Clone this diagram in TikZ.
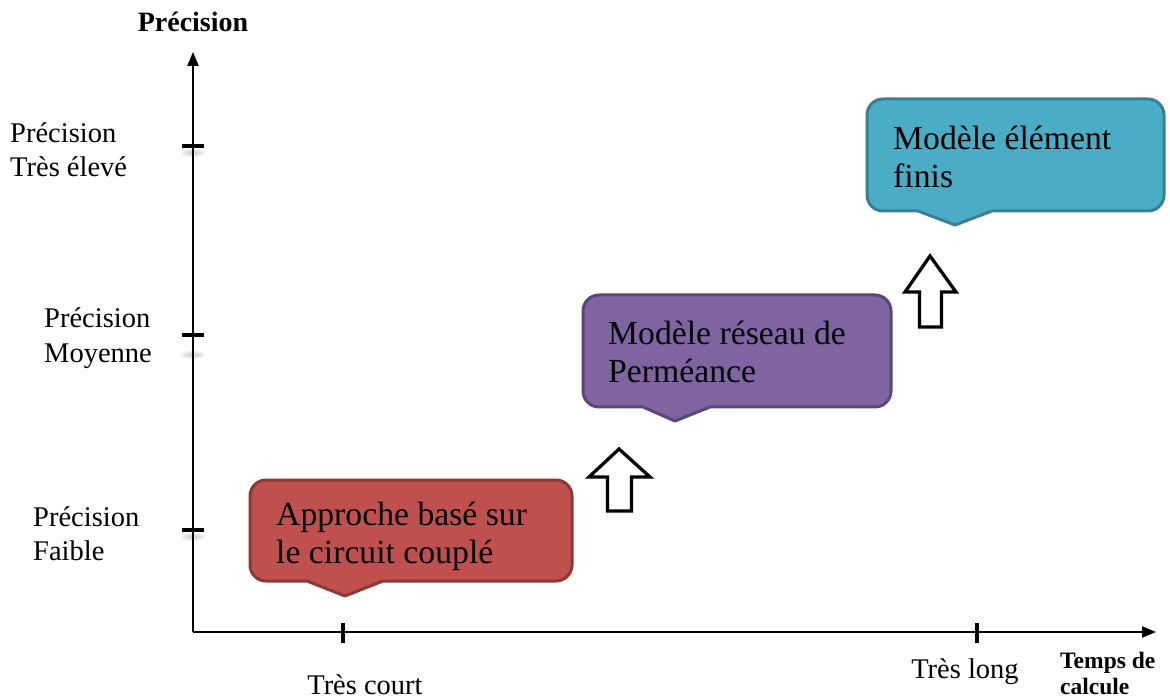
\documentclass[tikz,border=0pt]{standalone}
\usepackage{fontspec}
\setmainfont{Liberation Serif}
\usetikzlibrary{arrows.meta}
\definecolor{redfill}{RGB}{192,80,77}
\definecolor{redline}{RGB}{140,56,53}
\definecolor{purplefill}{RGB}{128,100,162}
\definecolor{purpleline}{RGB}{92,70,120}
\definecolor{bluefill}{RGB}{75,172,198}
\definecolor{blueline}{RGB}{55,128,150}
\begin{document}
\begin{tikzpicture}[x=1pt,y=-1pt,
  axis/.style={line width=2.4pt,-{Triangle[length=14pt,width=11pt]}},
  tickmark/.style={line width=4pt},
  tickshade/.style={fill=gray,opacity=0.12},
  lbl/.style={font=\fontsize{28.5}{34.5}\selectfont,align=left,inner sep=0pt,anchor=west},
  axistitle/.style={font=\bfseries\fontsize{28}{30}\selectfont,inner sep=0pt},
  boxtext/.style={font=\fontsize{33.7}{38}\selectfont,align=left,inner sep=0pt,anchor=west},
  callout/.style={line width=3pt,line join=round},
  blockarrow/.style={draw=black,fill=white,line width=3.3pt,line join=miter}]
\useasboundingbox (0,0) rectangle (1170,700);

% soft shadows under the precision ticks
\foreach \yy in {153,355,537}{
  \foreach \r in {4,7,10}{
    \fill[tickshade] (193,\yy) ellipse ({\r+2} and {\r/2.5});
  }
}

% axes
\coordinate (O) at (193,632);
\coordinate (ytop) at (193,52);
\coordinate (xend) at (1156,632);
\draw[axis] (O) -- (ytop);
\draw[axis] (O) -- (xend);

% ticks on the precision axis
\draw[tickmark] (182,146) -- (204,146);
\draw[tickmark] (182,335) -- (204,335);
\draw[tickmark] (182,530) -- (204,530);
% ticks on the time axis
\draw[tickmark] (343,623) -- (343,643);
\draw[tickmark] (977,623) -- (977,643);

% axis labels
\node[axistitle] (ytitle) at (193,22) {Précision};
\node[lbl] (phigh) at (10,149.5) {Précision\\Très élevé};
\node[lbl] (pmid) at (44,338) {Précision\\Moyenne};
\node[lbl] (plow) at (33,533.5) {Précision\\Faible};
\node[font=\fontsize{28.5}{34.5}\selectfont,inner sep=0pt] (tshort) at (365,685) {Très court};
\node[font=\fontsize{28.5}{34.5}\selectfont,inner sep=0pt] (tlong) at (965,672) {Très long};
\node[font=\bfseries\fontsize{23.5}{26}\selectfont,align=left,inner sep=0pt,anchor=west] (xtitle) at (1060,673) {Temps de\\calcule};

% callout: coupled circuit
\draw[callout,draw=redline,fill=redfill]
  (307,581) -- (345,596) -- (383,581) [rounded corners=16] -- (572,581) -- (572,480)
  -- (250,480) -- (250,581) [sharp corners] -- cycle;
\node[boxtext] (circuit) at (276,536) {Approche basé sur\\le circuit couplé};

% callout: permeance network
\draw[callout,draw=purpleline,fill=purplefill]
  (643,407) -- (675,421) -- (710,407) [rounded corners=16] -- (891,407) -- (891,295)
  -- (583,295) -- (583,407) [sharp corners] -- cycle;
\node[boxtext] (reseau) at (608,351.5) {Modèle réseau de\\Perméance};

% callout: finite elements
\draw[callout,draw=blueline,fill=bluefill]
  (918,211) -- (955,225) -- (992,211) [rounded corners=16] -- (1164,211) -- (1164,99)
  -- (867,99) -- (867,211) [sharp corners] -- cycle;
\node[boxtext] (fem) at (893,156.5) {Modèle élément\\finis};

% hollow up arrows between the levels
\draw[blockarrow] (619,449) -- (650,477) -- (631.5,477) -- (631.5,511)
  -- (607.5,511) -- (607.5,477) -- (589,477) -- cycle;
\draw[blockarrow] (930,256) -- (956,292) -- (941.5,292) -- (941.5,327)
  -- (919.5,327) -- (919.5,292) -- (905,292) -- cycle;
\end{tikzpicture}
\end{document}
